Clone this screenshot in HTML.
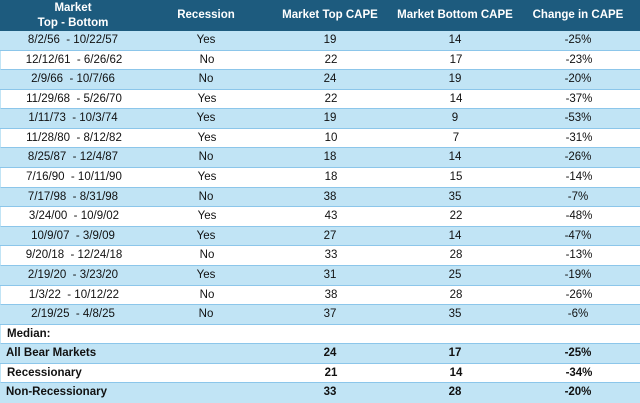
<!DOCTYPE html>
<html><head><meta charset="utf-8"><style>
html,body{margin:0;padding:0;background:#fff;}
body{width:640px;height:403px;overflow:hidden;font-family:"Liberation Sans",Arial,sans-serif;color:#111;}
.hdr{position:absolute;left:0;top:0;width:640px;height:31px;background:#1d5b7e;color:#fff;font-weight:bold;font-size:11.5px;}
.hdr div{position:absolute;top:0;height:31px;display:flex;align-items:center;justify-content:center;text-align:center;line-height:15px;}
.rows{position:absolute;left:0;top:31px;width:640px;}
.r{position:relative;height:19.58px;box-sizing:border-box;border-bottom:1.5px solid #8cc6ea;font-size:11.5px;}
.r.b{background:#c1e4f5;}
.r.w{background:#fff;border-left:1px solid #c1e4f5;}
.r span{position:absolute;top:0;height:18px;line-height:19px;text-align:center;}
.c1{left:0;width:146px;}
.c2{left:146px;width:120px;}
.c3{left:266px;width:128px;}
.c4{left:394px;width:122px;}
.c5{left:516px;width:124px;}
.r span.lab{left:6px;text-align:left;width:200px;font-weight:bold;}
.bold span{font-weight:bold;}
</style></head><body>
<div class="hdr">
<div class="c1">Market<br>Top - Bottom</div>
<div class="c2">Recession</div>
<div class="c3">Market Top CAPE</div>
<div class="c4">Market Bottom CAPE</div>
<div class="c5">Change in CAPE</div>
</div>
<div class="rows">
<div class="r b"><span class="c1">8/2/56&nbsp; - 10/22/57</span><span class="c2">Yes</span><span class="c3">19</span><span class="c4">14</span><span class="c5">-25%</span></div>
<div class="r w"><span class="c1">12/12/61&nbsp; - 6/26/62</span><span class="c2">No</span><span class="c3">22</span><span class="c4">17</span><span class="c5">-23%</span></div>
<div class="r b"><span class="c1">2/9/66&nbsp; - 10/7/66</span><span class="c2">No</span><span class="c3">24</span><span class="c4">19</span><span class="c5">-20%</span></div>
<div class="r w"><span class="c1">11/29/68&nbsp; - 5/26/70</span><span class="c2">Yes</span><span class="c3">22</span><span class="c4">14</span><span class="c5">-37%</span></div>
<div class="r b"><span class="c1">1/11/73&nbsp; - 10/3/74</span><span class="c2">Yes</span><span class="c3">19</span><span class="c4">9</span><span class="c5">-53%</span></div>
<div class="r w"><span class="c1">11/28/80&nbsp; - 8/12/82</span><span class="c2">Yes</span><span class="c3">10</span><span class="c4">7</span><span class="c5">-31%</span></div>
<div class="r b"><span class="c1">8/25/87&nbsp; - 12/4/87</span><span class="c2">No</span><span class="c3">18</span><span class="c4">14</span><span class="c5">-26%</span></div>
<div class="r w"><span class="c1">7/16/90&nbsp; - 10/11/90</span><span class="c2">Yes</span><span class="c3">18</span><span class="c4">15</span><span class="c5">-14%</span></div>
<div class="r b"><span class="c1">7/17/98&nbsp; - 8/31/98</span><span class="c2">No</span><span class="c3">38</span><span class="c4">35</span><span class="c5">-7%</span></div>
<div class="r w"><span class="c1">3/24/00&nbsp; - 10/9/02</span><span class="c2">Yes</span><span class="c3">43</span><span class="c4">22</span><span class="c5">-48%</span></div>
<div class="r b"><span class="c1">10/9/07&nbsp; - 3/9/09</span><span class="c2">Yes</span><span class="c3">27</span><span class="c4">14</span><span class="c5">-47%</span></div>
<div class="r w"><span class="c1">9/20/18&nbsp; - 12/24/18</span><span class="c2">No</span><span class="c3">33</span><span class="c4">28</span><span class="c5">-13%</span></div>
<div class="r b"><span class="c1">2/19/20&nbsp; - 3/23/20</span><span class="c2">Yes</span><span class="c3">31</span><span class="c4">25</span><span class="c5">-19%</span></div>
<div class="r w"><span class="c1">1/3/22&nbsp; - 10/12/22</span><span class="c2">No</span><span class="c3">38</span><span class="c4">28</span><span class="c5">-26%</span></div>
<div class="r b"><span class="c1">2/19/25&nbsp; - 4/8/25</span><span class="c2">No</span><span class="c3">37</span><span class="c4">35</span><span class="c5">-6%</span></div>
<div class="r w"><span class="lab">Median:</span></div>
<div class="r b bold"><span class="lab">All Bear Markets</span><span class="c3">24</span><span class="c4">17</span><span class="c5">-25%</span></div>
<div class="r w bold"><span class="lab">Recessionary</span><span class="c3">21</span><span class="c4">14</span><span class="c5">-34%</span></div>
<div class="r b bold" style="border-bottom:none"><span class="lab">Non-Recessionary</span><span class="c3">33</span><span class="c4">28</span><span class="c5">-20%</span></div>
</div>
</body></html>
